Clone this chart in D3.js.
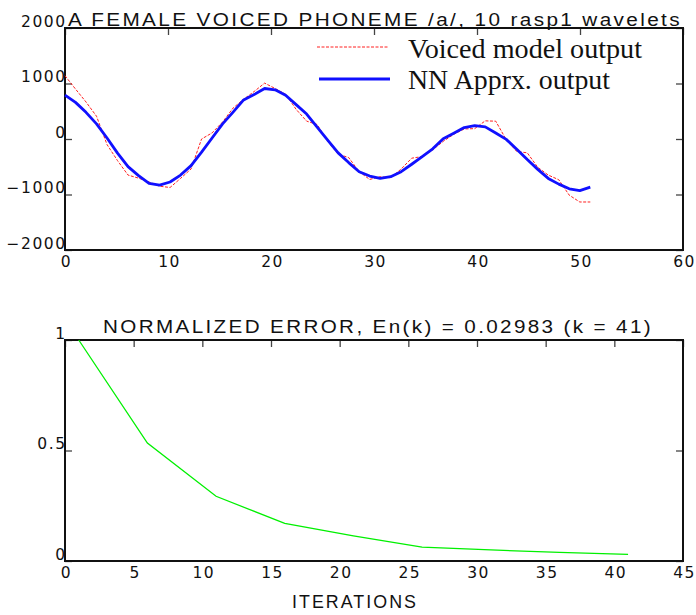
<!DOCTYPE html>
<html>
<head>
<meta charset="utf-8">
<script src="https://cdnjs.cloudflare.com/ajax/libs/d3/7.8.5/d3.min.js"></script>
<style>
  body { margin: 0; background: #fff; }
  svg { display: block; }
  .tick line { stroke: #444; stroke-width: 1.3px; }
  .domain { display: none; }
</style>
</head>
<body>
<div id="chart"></div>
<script>
// top panel: signal samples (spacing 51/50 on the x axis)
var sampleStep = 1.02;
var voicedModel = [1140, 900, 667, 410, -100, -390, -650, -705, -775, -850,
  -874, -710, -540, 0, 110, 306, 558, 716, 855, 1007,
  910, 807, 534, 322, 261, -40, -274, -334, -589, -729,
  -680, -698, -540, -346, -316, -195, -43, 84, 181, 187,
  327, 321, -13, -225, -249, -510, -650, -734, -1013, -1135, -1135];
var nnApprox = [790, 660, 480, 273, 18, -255, -498, -660, -800, -830,
  -775, -650, -480, -237, 18, 273, 485, 704, 800, 910,
  886, 789, 619, 449, 212, -20, -250, -425, -589, -668,
  -710, -680, -589, -455, -316, -177, 5, 103, 206, 242,
  218, 109, -7, -183, -371, -547, -710, -813, -898, -929, -868];

// bottom panel: normalized error per iteration
var iterations = [1, 6, 11, 16, 21, 26, 31, 36, 41];
var normError = [1.0, 0.534, 0.293, 0.17, 0.114, 0.063, 0.05, 0.039, 0.0298];

var topXTicks = [0, 10, 20, 30, 40, 50, 60];
var topYTicks = [-2000, -1000, 0, 1000, 2000];
var botXTicks = [0, 5, 10, 15, 20, 25, 30, 35, 40, 45];
var botYTicks = [0, 0.5, 1];
var legendLabels = ["Voiced model output", "NN Apprx. output"];

var sans = "'Liberation Sans', Arial, sans-serif";
var width = 696, height = 615;
var svg = d3.select("#chart").append("svg")
  .attr("width", width)
  .attr("height", height);

var left = 65, right = 683;

function styleLabels(sel) {
  sel.attr("font-family", "'DejaVu Sans', sans-serif").attr("font-size", 15.5)
    .attr("letter-spacing", 1.5).attr("fill", "#111");
}

function panel(top, bottom, xDomain, yDomain, xTicks, yTicks, yFmt) {
  var x = d3.scaleLinear().domain(xDomain).range([left, right]);
  var y = d3.scaleLinear().domain(yDomain).range([bottom, top]);
  var g = svg.append("g");

  // left axis, ticks pointing inwards, labels sitting on the tick
  g.append("g").attr("transform", "translate(" + left + ",0)")
    .call(d3.axisLeft(y).tickValues(yTicks).tickFormat(yFmt)
      .tickSizeInner(-7).tickSizeOuter(0).tickPadding(0))
    .selectAll("text").attr("dy", "-0.12em").attr("dx", "1.5px").call(styleLabels);
  // right axis, ticks only
  g.append("g").attr("transform", "translate(" + right + ",0)")
    .call(d3.axisLeft(y).tickValues(yTicks).tickFormat("")
      .tickSizeInner(7).tickSizeOuter(0));
  // top axis, ticks only
  g.append("g").attr("transform", "translate(0," + top + ")")
    .call(d3.axisBottom(x).tickValues(xTicks).tickFormat("")
      .tickSizeInner(7).tickSizeOuter(0));
  // bottom axis, labels only
  g.append("g").attr("transform", "translate(0," + bottom + ")")
    .call(d3.axisBottom(x).tickValues(xTicks).tickFormat(d3.format("d"))
      .tickSizeInner(0).tickSizeOuter(0).tickPadding(5.5))
    .selectAll("text").attr("dx", "1px").call(styleLabels);

  g.append("rect")
    .attr("x", left).attr("y", top)
    .attr("width", right - left).attr("height", bottom - top)
    .attr("fill", "none").attr("stroke", "#111").attr("stroke-width", 2);

  return {x: x, y: y, g: g};
}

// titles: glyphs stretched wide like the original printout
function title(x, y, len, txt) {
  svg.append("text")
    .attr("x", x).attr("y", y)
    .attr("font-family", sans).attr("font-size", 17.5)
    .attr("letter-spacing", 2)
    .attr("fill", "#111")
    .attr("textLength", len).attr("lengthAdjust", "spacingAndGlyphs")
    .text(txt);
}

// ---- top panel
var p1 = panel(28, 250, [0, 60], [-2000, 2000], topXTicks, topYTicks, d3.format("d"));

var line1 = d3.line()
  .x(function (d, i) { return p1.x(i * sampleStep); })
  .y(function (d) { return p1.y(d); });

p1.g.append("path").datum(voicedModel)
  .attr("d", line1)
  .attr("fill", "none")
  .attr("stroke", "#ff2020")
  .attr("stroke-width", 1)
  .attr("stroke-dasharray", "3,1.5");

p1.g.append("path").datum(nnApprox)
  .attr("d", line1)
  .attr("fill", "none")
  .attr("stroke", "#1010ff")
  .attr("stroke-width", 2.8)
  .attr("stroke-linejoin", "round");

title(68, 26, 614, "A FEMALE VOICED PHONEME /a/, 10 rasp1 wavelets");

var legend = svg.append("g");
legend.append("line")
  .attr("x1", 317).attr("x2", 388).attr("y1", 47).attr("y2", 47)
  .attr("stroke", "#ff2020").attr("stroke-width", 1).attr("stroke-dasharray", "3,1.5");
legend.append("line")
  .attr("x1", 319).attr("x2", 390).attr("y1", 79).attr("y2", 79)
  .attr("stroke", "#1010ff").attr("stroke-width", 2.8);
legend.selectAll("text").data(legendLabels).enter().append("text")
  .attr("x", 408)
  .attr("y", function (d, i) { return i === 0 ? 57.5 : 89; })
  .attr("font-family", "'Liberation Serif', 'Times New Roman', serif")
  .attr("font-size", 27.5)
  .attr("fill", "#111")
  .attr("textLength", function (d, i) { return i === 0 ? 234 : 202; })
  .attr("lengthAdjust", "spacingAndGlyphs")
  .text(function (d) { return d; });

// ---- bottom panel
var p2 = panel(340, 561, [0, 45], [0, 1], botXTicks, botYTicks, function (d) { return d === 0.5 ? "0.5" : d3.format("d")(d); });

p2.g.append("path").datum(normError)
  .attr("d", d3.line()
    .x(function (d, i) { return p2.x(iterations[i]); })
    .y(function (d) { return p2.y(d); }))
  .attr("fill", "none")
  .attr("stroke", "#00f000")
  .attr("stroke-width", 1.3);

title(103, 333, 550, "NORMALIZED ERROR, En(k) = 0.02983 (k = 41)");
title(292, 608, 126, "ITERATIONS");
</script>
</body>
</html>
